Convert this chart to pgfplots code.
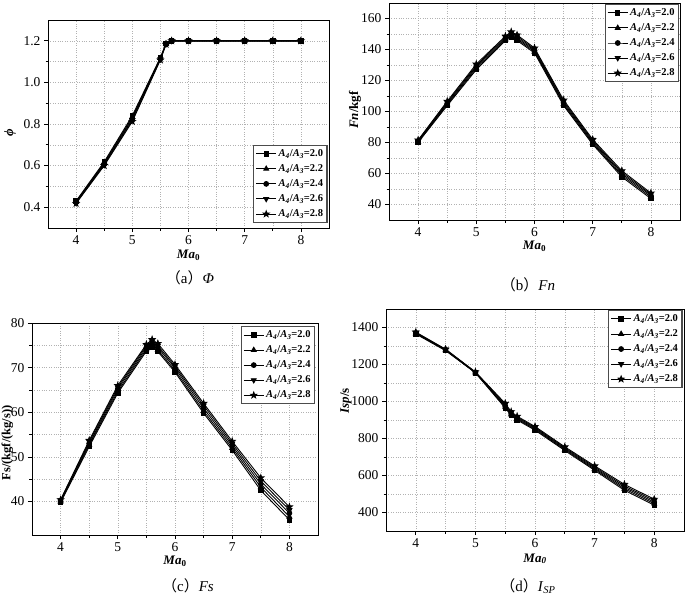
\documentclass[border=0pt]{standalone}
\usepackage{fontspec}
\setmainfont{Liberation Serif}
\newfontfamily\cjk{Noto Sans CJK SC}
\usepackage{pgfplots}
\usepackage{pgfplotstable}
\pgfplotsset{compat=1.18}
\usetikzlibrary{plotmarks}

\pgfdeclareplotmark{fstar}{%
  \pgfpathmoveto{\pgfpointpolar{90}{1.35\pgfplotmarksize}}%
  \pgfpathlineto{\pgfpointpolar{126}{0.55\pgfplotmarksize}}%
  \pgfpathlineto{\pgfpointpolar{162}{1.35\pgfplotmarksize}}%
  \pgfpathlineto{\pgfpointpolar{198}{0.55\pgfplotmarksize}}%
  \pgfpathlineto{\pgfpointpolar{234}{1.35\pgfplotmarksize}}%
  \pgfpathlineto{\pgfpointpolar{270}{0.55\pgfplotmarksize}}%
  \pgfpathlineto{\pgfpointpolar{306}{1.35\pgfplotmarksize}}%
  \pgfpathlineto{\pgfpointpolar{342}{0.55\pgfplotmarksize}}%
  \pgfpathlineto{\pgfpointpolar{18}{1.35\pgfplotmarksize}}%
  \pgfpathlineto{\pgfpointpolar{54}{0.55\pgfplotmarksize}}%
  \pgfpathclose\pgfusepathqfillstroke}

\pgfplotstableread{
ma   s20    s22    s24    s26    s28
4    0.430  0.427  0.424  0.421  0.418
4.5  0.618  0.613  0.608  0.604  0.600
5    0.840  0.833  0.826  0.819  0.812
5.5  1.120  1.117  1.114  1.111  1.108
5.6  1.187  1.186  1.185  1.184  1.183
5.7  1.200  1.200  1.200  1.200  1.200
6    1.200  1.200  1.200  1.200  1.200
6.5  1.200  1.200  1.200  1.200  1.200
7    1.200  1.200  1.200  1.200  1.200
7.5  1.200  1.200  1.200  1.200  1.200
8    1.200  1.200  1.200  1.200  1.200
}\tphi

\pgfplotstableread{
ma   s20    s22    s24    s26    s28
4    80.0   80.4   80.8   81.2   81.6
4.5  103.8  104.5  105.2  105.9  106.6
5    127.0  127.9  128.8  129.7  130.6
5.5  145.8  146.5  147.2  147.9  148.6
5.6  147.8  148.7  149.6  150.5  151.4
5.7  145.8  146.7  147.6  148.5  149.4
6    137.8  138.6  139.4  140.2  141.0
6.5  103.8  104.7  105.6  106.5  107.4
7    78.8   79.6   80.4   81.2   82.0
7.5  57.8   58.8   59.8   60.8   61.8
8    43.8   44.8   45.8   46.6   47.4
}\tfn

\pgfplotstableread{
ma   s20    s22    s24    s26    s28
4    39.8   40.0   40.1   40.3   40.4
4.5  52.3   52.7   53.0   53.4   53.7
5    64.3   64.7   65.2   65.6   66.0
5.5  73.7   74.1   74.5   74.9   75.2
5.6  74.6   75.0   75.5   75.9   76.3
5.7  73.6   74.0   74.5   74.9   75.4
6    69.0   69.4   69.9   70.3   70.7
6.5  59.8   60.3   60.9   61.5   62.0
7    51.5   52.0   52.5   53.0   53.5
7.5  42.5   43.2   43.9   44.6   45.3
8    35.9   36.6   37.4   38.1   38.8
}\tfs

\pgfplotstableread{
ma   s20    s22    s24    s26    s28
4    1365   1368   1370   1373   1375
4.5  1275   1277   1279   1281   1283
5    1155   1156   1157   1159   1160
5.5  965    971    977    984    990
5.6  925    930    935    940    945
5.7  900    905    910    915    920
6    845    850    855    860    865
6.5  735    740    745    750    755
7    628    634    640    646    652
7.5  520    528    536    544    552
8    440    448    456    464    472
}\tisp

\newcommand{\leg}[1]{\textbf{\textit{A}\textsubscript{\textit{4}}/\textit{A}\textsubscript{\textit{3}}=#1}}
\newcommand{\maz}{\textbf{\textit{Ma}\textsubscript{0}}}

\pgfplotsset{
  myax/.style={
    scale only axis,
    xmin=3.5, xmax=8.5, xtick={4,5,6,7,8},
    minor x tick num=1, minor y tick num=1,
    tick align=outside, tick pos=left,
    grid=both,
    major grid style={dotted, gray!60, line width=0.5pt},
    minor grid style={dotted, gray!60, line width=0.5pt},
    axis line style={line width=0.9pt},
    major tick length=4pt, minor tick length=2.5pt,
    every tick/.style={black, line width=0.7pt},
    ticklabel style={font=\fontsize{13.5}{15}\selectfont},
    /pgf/number format/assume math mode=true,
    /pgf/number format/1000 sep={},
    label style={font=\fontsize{13}{15}\selectfont},
    xlabel={\maz},
    legend cell align=left,
    legend image code/.code={\draw[mark repeat=2,mark phase=2,##1] plot coordinates {(0pt,0pt) (10pt,0pt) (20pt,0pt)};},
    legend style={font=\fontsize{10.5}{12}\selectfont, draw=black!70, line width=1.1pt,
      inner xsep=2pt, inner ysep=2pt, row sep=2.6pt,
      /tikz/every even column/.append style={column sep=2pt}},
    every axis plot/.append style={black, line width=0.9pt, mark size=2.4pt},
  },
  s20/.style={mark=square*, mark size=2.2pt},
  s22/.style={mark=triangle*, mark size=2.8pt},
  s24/.style={mark=*},
  s26/.style={mark=triangle*, mark size=2.8pt, mark options={rotate=180}},
  s28/.style={mark=fstar, mark size=2.3pt},
}

\begin{document}
\begin{tikzpicture}
\useasboundingbox (0pt,0pt) rectangle (685pt,-597pt);

% (a)
\begin{axis}[myax, at={(48pt,-228pt)}, anchor=south west, width=281pt, height=208pt,
  ymin=0.3, ymax=1.3, ytick={0.4,0.6,0.8,1.0,1.2},
  yticklabel style={/pgf/number format/.cd, fixed, fixed zerofill, precision=1},
  ylabel={\textbf{\textit{ϕ}}},
  ylabel style={at={(axis description cs:-0.135,0.457)}, anchor=center, rotate=0},
  xlabel style={at={(axis description cs:0.5,-0.132)}, anchor=center},
  legend style={at={(0.995,0.025)}, anchor=south east}]
\addplot[s20] table[x=ma,y=s20]{\tphi}; \addlegendentry{\leg{2.0}}
\addplot[s22] table[x=ma,y=s22]{\tphi}; \addlegendentry{\leg{2.2}}
\addplot[s24] table[x=ma,y=s24]{\tphi}; \addlegendentry{\leg{2.4}}
\addplot[s26] table[x=ma,y=s26]{\tphi}; \addlegendentry{\leg{2.6}}
\addplot[s28] table[x=ma,y=s28]{\tphi}; \addlegendentry{\leg{2.8}}
\end{axis}
\node[font=\fontsize{15}{17}\selectfont] at (190pt,-278pt) {{\cjk （}a{\cjk ）}\textit{Φ}};

% (b)
\begin{axis}[myax, at={(389pt,-220pt)}, anchor=south west, width=291pt, height=217pt,
  ymin=30, ymax=170, ytick={40,60,...,160},
  ylabel={\textbf{\textit{Fn}/kgf}},
  ylabel style={at={(axis description cs:-0.117,0.507)}, anchor=center},
  xlabel style={at={(axis description cs:0.5,-0.123)}, anchor=center},
  legend style={at={(0.997,0.995)}, anchor=north east}]
\addplot[s20] table[x=ma,y=s20]{\tfn}; \addlegendentry{\leg{2.0}}
\addplot[s22] table[x=ma,y=s22]{\tfn}; \addlegendentry{\leg{2.2}}
\addplot[s24] table[x=ma,y=s24]{\tfn}; \addlegendentry{\leg{2.4}}
\addplot[s26] table[x=ma,y=s26]{\tfn}; \addlegendentry{\leg{2.6}}
\addplot[s28] table[x=ma,y=s28]{\tfn}; \addlegendentry{\leg{2.8}}
\end{axis}
\node[font=\fontsize{15}{17}\selectfont] at (528pt,-285pt) {{\cjk （}b{\cjk ）}\textit{Fn}};

% (c)
\begin{axis}[myax, at={(32pt,-535pt)}, anchor=south west, width=286pt, height=212pt,
  ymin=32.5, ymax=80, ytick={40,50,...,80},
  ylabel={\textbf{Fs/(kgf/(kg/s))}},
  ylabel style={at={(axis description cs:-0.086,0.434)}, anchor=center, font=\fontsize{12.5}{14}\selectfont},
  xlabel style={at={(axis description cs:0.5,-0.125)}, anchor=center},
  legend style={at={(0.99,0.985)}, anchor=north east}]
\addplot[s20] table[x=ma,y=s20]{\tfs}; \addlegendentry{\leg{2.0}}
\addplot[s22] table[x=ma,y=s22]{\tfs}; \addlegendentry{\leg{2.2}}
\addplot[s24] table[x=ma,y=s24]{\tfs}; \addlegendentry{\leg{2.4}}
\addplot[s26] table[x=ma,y=s26]{\tfs}; \addlegendentry{\leg{2.6}}
\addplot[s28] table[x=ma,y=s28]{\tfs}; \addlegendentry{\leg{2.8}}
\end{axis}
\node[font=\fontsize{15}{17}\selectfont] at (188pt,-586pt) {{\cjk （}c{\cjk ）}\textit{Fs}};

% (d)
\begin{axis}[myax, at={(386pt,-531pt)}, anchor=south west, width=298pt, height=222pt,
  ymin=300, ymax=1500, ytick={400,600,...,1400},
  ylabel={\textbf{\textit{Isp}/s}},
  ylabel style={at={(axis description cs:-0.134,0.586)}, anchor=center},
  xlabel={\textbf{\textit{Ma}\textsubscript{\textit{0}}}},
  xlabel style={at={(axis description cs:0.5,-0.125)}, anchor=center},
  legend style={at={(0.995,0.995)}, anchor=north east}]
\addplot[s20] table[x=ma,y=s20]{\tisp}; \addlegendentry{\leg{2.0}}
\addplot[s22] table[x=ma,y=s22]{\tisp}; \addlegendentry{\leg{2.2}}
\addplot[s24] table[x=ma,y=s24]{\tisp}; \addlegendentry{\leg{2.4}}
\addplot[s26] table[x=ma,y=s26]{\tisp}; \addlegendentry{\leg{2.6}}
\addplot[s28] table[x=ma,y=s28]{\tisp}; \addlegendentry{\leg{2.8}}
\end{axis}
\node[font=\fontsize{15}{17}\selectfont] at (528pt,-586pt) {{\cjk （}d{\cjk ）}\textit{I}\textsubscript{\textit{SP}}};
\end{tikzpicture}
\end{document}
